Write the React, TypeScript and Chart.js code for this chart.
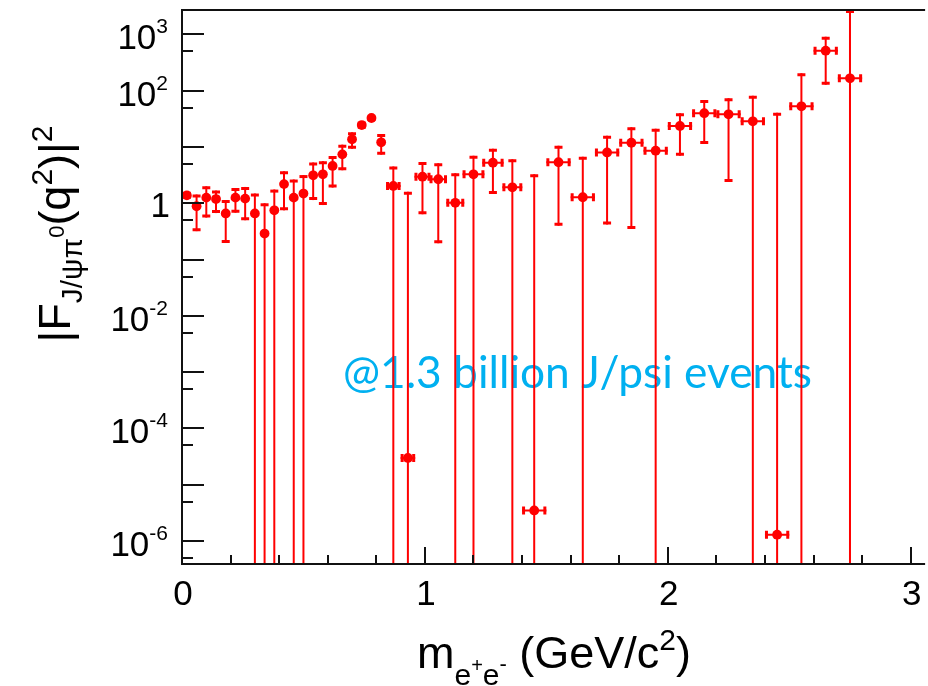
import React, { useEffect, useRef } from "react";
import { Chart, registerables } from "chart.js";
Chart.register(...registerables);

// bin centres of m(e+e-) in GeV/c^2
const binCenters = [
  0.02, 0.06, 0.10, 0.14, 0.18, 0.22, 0.26, 0.30, 0.34, 0.38, 0.42,
  0.46, 0.50, 0.54, 0.58, 0.62, 0.66, 0.70, 0.74, 0.78, 0.82,
  0.87, 0.93, 0.99, 1.055, 1.125, 1.20, 1.28, 1.36, 1.45,
  1.55, 1.65, 1.75, 1.85, 1.95, 2.05, 2.15, 2.25, 2.35, 2.45, 2.55, 2.65, 2.75,
];
// half bin widths (horizontal error bars)
const binHalfWidths = [
  0, 0, 0, 0, 0, 0, 0, 0, 0, 0, 0,
  0, 0, 0, 0, 0, 0, 0, 0, 0, 0,
  0.03, 0.03, 0.033, 0.036, 0.037, 0.045, 0.044, 0.041, 0.05,
  0.05, 0.05, 0.05, 0.05, 0.05, 0.05, 0.05, 0.05, 0.05, 0.05, 0.05, 0.05, 0.05,
];
// |F(q^2)|^2 central values
const formFactor = [
  1.38, 0.885, 1.26, 1.19, 0.66, 1.26, 1.21, 0.66, 0.29, 0.75, 2.19,
  1.26, 1.49, 3.14, 3.27, 4.6, 7.4, 13.7, 24.5, 32.7, 12.1,
  2.03, 3.0e-5, 2.97, 2.67, 1.02, 3.27, 5.26, 1.92, 3.5e-6,
  5.35, 1.28, 8.0, 11.9, 8.6, 23.6, 39.8, 38, 28.6, 1.3e-6, 52.8, 513, 166,
];
// upper end of the error bar
const errUpper = [
  1.6, 1.43, 2.0, 1.68, 1.14, 1.87, 1.95, 1.49, 1.0, 1.75, 3.7,
  2.64, 3.17, 5.3, 5.6, 6.9, 11.0, 18.2, 28, 36, 17,
  4.5, 1.61, 5.4, 5.13, 3.4, 7.0, 9.3, 6.05, 3.27,
  10.5, 6.7, 15.9, 22.4, 21.1, 39.8, 68.4, 73, 81.5, 40.6, 203, 909, 5000,
];
// lower end of the error bar (0 = extends below zero)
const errLower = [
  1.2, 0.32, 0.557, 0.67, 0.197, 0.68, 0.5, 0, 0, 0, 0.75,
  0, 0, 1.14, 0.93, 1.9, 3.86, 9.3, 21, 29, 7.3,
  0, 0, 0.64, 0.195, 0, 0, 1.46, 0, 0,
  0.4, 0, 0.42, 0.35, 0, 7.0, 11.3, 2.39, 0, 0, 0, 128, 0,
];

const xMajorTicks = [0, 1, 2, 3];
const xMinorTicks = [0.2, 0.4, 0.6, 0.8, 1.2, 1.4, 1.6, 1.8, 2.2, 2.4, 2.6, 2.8, 3.2];
const yMajorExponents = [-6, -5, -4, -3, -2, -1, 0, 1, 2, 3];
const yMinorTicks = [5e-7, 5e-6, 5e-5, 5e-4, 5e-3, 5e-2, 0.5, 5, 50, 500];
const yLabelExponents = [3, 2, 0, -2, -4, -6];
const xLabels = ["0", "1", "2", "3"];

const annotation = "@1.3 billion J/psi events";

const RED = "#ff0000";
const SANS = '"Liberation Sans", Arial, Helvetica, sans-serif';

type Seg = { t: string; size: number; dy: number };

function segsWidth(ctx: CanvasRenderingContext2D, segs: Seg[]) {
  let w = 0;
  for (const s of segs) {
    ctx.font = `${s.size}px ${SANS}`;
    w += ctx.measureText(s.t).width;
  }
  return w;
}
function drawSegs(ctx: CanvasRenderingContext2D, segs: Seg[], x: number, y: number) {
  let cx = x;
  ctx.textAlign = "left";
  ctx.textBaseline = "alphabetic";
  for (const s of segs) {
    ctx.font = `${s.size}px ${SANS}`;
    ctx.fillText(s.t, cx, y + s.dy);
    cx += ctx.measureText(s.t).width;
  }
}

const yTitle: Seg[] = [
  { t: "|F", size: 45, dy: 0 },
  { t: "J/\u03C8\u03C0", size: 30, dy: 12 },
  { t: "0", size: 22, dy: -6 },
  { t: "(q", size: 45, dy: 0 },
  { t: "2", size: 30, dy: -18 },
  { t: ")|", size: 45, dy: 0 },
  { t: "2", size: 30, dy: -18 },
];
const xTitle: Seg[] = [
  { t: "m", size: 45, dy: 0 },
  { t: "e", size: 30, dy: 17 },
  { t: "+", size: 20, dy: 4 },
  { t: "e", size: 30, dy: 17 },
  { t: "-", size: 22, dy: 3 },
  { t: " (GeV/c", size: 45, dy: 0 },
  { t: "2", size: 30, dy: -18 },
  { t: ")", size: 45, dy: 0 },
];

const backgroundPlugin = {
  id: "bgText",
  beforeDatasetsDraw(chart: any) {
    const ctx: CanvasRenderingContext2D = chart.ctx;
    ctx.save();
    // annotation
    ctx.fillStyle = "#00b0f0";
    const fam = 'Lato, "Open Sans", sans-serif';
    ctx.font = `40px ${fam}`;
    const w = ctx.measureText(annotation).width;
    const size = (40 * 469) / w;
    ctx.font = `${size}px ${fam}`;
    ctx.textAlign = "left";
    ctx.textBaseline = "alphabetic";
    ctx.fillText(annotation, 343, 388);
    ctx.restore();

    // error bars
    const xs = chart.scales.x;
    const ys = chart.scales.y;
    const area = chart.chartArea;
    ctx.save();
    ctx.strokeStyle = RED;
    ctx.lineWidth = 2;
    const cap = 4;
    for (let i = 0; i < binCenters.length; i++) {
      const px = xs.getPixelForValue(binCenters[i]);
      const py = ys.getPixelForValue(formFactor[i]);
      const topClamped = errUpper[i] >= ys.max;
      const botClamped = errLower[i] <= 0 || errLower[i] <= ys.min;
      const top = topClamped ? area.top : ys.getPixelForValue(errUpper[i]);
      const bot = botClamped ? area.bottom : ys.getPixelForValue(errLower[i]);
      ctx.lineWidth = 2;
      ctx.beginPath();
      ctx.moveTo(px, top);
      ctx.lineTo(px, bot);
      const hw = binHalfWidths[i];
      let xl = 0;
      let xr = 0;
      if (hw > 0) {
        xl = xs.getPixelForValue(binCenters[i] - hw);
        xr = xs.getPixelForValue(binCenters[i] + hw);
        ctx.moveTo(xl, py);
        ctx.lineTo(xr, py);
      }
      ctx.stroke();
      // caps
      ctx.lineWidth = 3;
      ctx.beginPath();
      ctx.moveTo(px - cap, top + 1.5);
      ctx.lineTo(px + cap, top + 1.5);
      if (!botClamped) {
        ctx.moveTo(px - cap, bot - 1.5);
        ctx.lineTo(px + cap, bot - 1.5);
      }
      if (hw > 0) {
        ctx.moveTo(xl + 1.5, py - cap);
        ctx.lineTo(xl + 1.5, py + cap);
        ctx.moveTo(xr - 1.5, py - cap);
        ctx.lineTo(xr - 1.5, py + cap);
      }
      ctx.stroke();
    }
    ctx.restore();
  },
};

const framePlugin = {
  id: "frame",
  afterDatasetsDraw(chart: any) {
    const ctx: CanvasRenderingContext2D = chart.ctx;
    const xs = chart.scales.x;
    const ys = chart.scales.y;
    const a = chart.chartArea;
    ctx.save();
    ctx.strokeStyle = "#111";
    ctx.lineWidth = 2;
    ctx.beginPath();
    ctx.moveTo(a.right + 2, a.top);
    ctx.lineTo(a.left, a.top);
    ctx.lineTo(a.left, a.bottom);
    ctx.lineTo(a.right + 2, a.bottom);
    // y ticks
    for (const e of yMajorExponents) {
      const py = Math.round(ys.getPixelForValue(Math.pow(10, e)));
      ctx.moveTo(a.left, py);
      ctx.lineTo(a.left + 22, py);
    }
    for (const v of yMinorTicks) {
      const py = Math.round(ys.getPixelForValue(v));
      if (py < a.top || py > a.bottom) continue;
      ctx.moveTo(a.left, py);
      ctx.lineTo(a.left + 11, py);
    }
    for (const v of xMajorTicks) {
      const px = Math.round(xs.getPixelForValue(v));
      ctx.moveTo(px, a.bottom);
      ctx.lineTo(px, a.bottom - 17);
    }
    for (const v of xMinorTicks) {
      const px = Math.round(xs.getPixelForValue(v));
      if (px > a.right) continue;
      ctx.moveTo(px, a.bottom);
      ctx.lineTo(px, a.bottom - 9);
    }
    ctx.stroke();

    // labels
    ctx.fillStyle = "#000";
    const rightX = a.left - 14;
    for (const e of yLabelExponents) {
      const py = ys.getPixelForValue(Math.pow(10, e));
      ctx.textAlign = "right";
      ctx.textBaseline = "alphabetic";
      if (e === 0) {
        ctx.font = `35px ${SANS}`;
        ctx.fillText("1", rightX + 2, py + 14);
      } else {
        const sup = String(e);
        ctx.font = `21px ${SANS}`;
        const sw = ctx.measureText(sup).width;
        ctx.fillText(sup, rightX, py - 1);
        ctx.font = `35px ${SANS}`;
        ctx.fillText("10", rightX - sw, py + 15);
      }
    }
    ctx.textAlign = "center";
    ctx.font = `35px ${SANS}`;
    xMajorTicks.forEach((v, i) => {
      const px = xs.getPixelForValue(v);
      ctx.fillText(xLabels[i], px + 1, a.bottom + 41);
    });

    // axis titles
    const xw = segsWidth(ctx, xTitle);
    drawSegs(ctx, xTitle, 554 - xw / 2, 668);
    const yw = segsWidth(ctx, yTitle);
    ctx.save();
    ctx.translate(70, 234);
    ctx.rotate(-Math.PI / 2);
    drawSegs(ctx, yTitle, -yw / 2, 0);
    ctx.restore();
    ctx.restore();
  },
};

export default function App() {
  const ref = useRef<HTMLCanvasElement | null>(null);
  useEffect(() => {
    if (!ref.current) return;
    const points = binCenters.map((x, i) => ({ x, y: formFactor[i] }));
    const chart = new Chart(ref.current, {
      type: "scatter",
      data: {
        datasets: [
          {
            data: points,
            backgroundColor: RED,
            borderColor: RED,
            pointRadius: 4.9,
            pointHoverRadius: 4.9,
            pointBorderWidth: 0,
            showLine: false,
          },
        ],
      },
      options: {
        responsive: false,
        animation: false,
        devicePixelRatio: 1,
        events: [],
        layout: { padding: { left: 182, right: 0, top: 10, bottom: 122 } },
        plugins: { legend: { display: false }, tooltip: { enabled: false } },
        scales: {
          x: { type: "linear", min: 0, max: 3.051, display: false },
          y: {
            type: "logarithmic",
            min: Math.pow(10, -6.407),
            max: Math.pow(10, 3.433),
            display: false,
          },
        },
      },
      plugins: [backgroundPlugin, framePlugin],
    });
    return () => chart.destroy();
  }, []);
  return (
    <div style={{ position: "absolute", left: 0, top: 0, width: 928, height: 686, background: "#fff" }}>
      <canvas ref={ref} width={928} height={686} style={{ display: "block", width: 928, height: 686 }} />
    </div>
  );
}
